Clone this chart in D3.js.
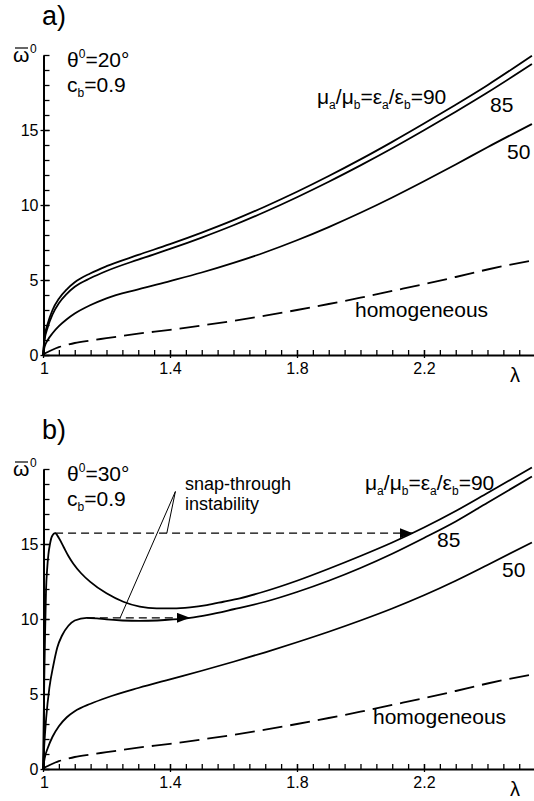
<!DOCTYPE html>
<html>
<head>
<meta charset="utf-8">
<script src="https://cdn.jsdelivr.net/npm/d3@7"></script>
<style>
body { margin: 0; background: #fff; }
svg { display: block; font-family: "Liberation Sans", Arial, Helvetica, sans-serif; }
</style>
</head>
<body>
<svg id="chart" width="534" height="801"></svg>
<script>
// lambda grid shared by most curves
const lamGrid = [1, 1.005, 1.015, 1.03, 1.05, 1.075, 1.1, 1.15, 1.2, 1.3, 1.4, 1.5, 1.6, 1.7, 1.8, 1.9, 2.0, 2.1, 2.2, 2.3, 2.4, 2.54];

// panel a) theta0 = 20 deg
const a90 = [0, 1.2, 2.1, 3.0, 3.75, 4.38, 4.85, 5.45, 5.92, 6.67, 7.39, 8.16, 8.99, 9.9, 10.88, 11.93, 13.04, 14.21, 15.43, 16.69, 17.99, 19.95];
const a85 = [0, 1.0, 1.85, 2.7, 3.45, 4.08, 4.55, 5.13, 5.6, 6.36, 7.07, 7.83, 8.65, 9.55, 10.52, 11.55, 12.64, 13.78, 14.98, 16.22, 17.5, 19.4];
const a50 = [0, 0.55, 1.0, 1.45, 1.92, 2.38, 2.76, 3.33, 3.78, 4.38, 4.93, 5.5, 6.14, 6.85, 7.65, 8.53, 9.48, 10.5, 11.58, 12.7, 13.85, 15.4];
// homogeneous (same in both panels)
const homog = [0, 0.08, 0.2, 0.35, 0.52, 0.67, 0.8, 0.97, 1.12, 1.42, 1.68, 1.97, 2.28, 2.62, 3.0, 3.4, 3.82, 4.27, 4.72, 5.2, 5.7, 6.3];

// panel b) theta0 = 30 deg
const lamB90 = [1, 1.002, 1.004, 1.0065, 1.0095, 1.013, 1.017, 1.022, 1.028, 1.038, 1.05, 1.065, 1.08, 1.095, 1.12, 1.148, 1.2, 1.253, 1.305, 1.358, 1.41, 1.463, 1.516, 1.568, 1.62, 1.7, 1.8, 1.9, 2.0, 2.1, 2.2, 2.3, 2.4, 2.54];
const b90 = [0, 3.0, 6.0, 9.0, 11.9, 13.3, 14.3, 15.0, 15.5, 15.72, 15.4, 14.8, 14.2, 13.7, 13.05, 12.49, 11.71, 11.15, 10.82, 10.71, 10.71, 10.78, 10.93, 11.15, 11.38, 11.85, 12.55, 13.35, 14.2, 15.1, 16.1, 17.2, 18.4, 20.1];
const lamB85 = [1, 1.004, 1.01, 1.02, 1.0325, 1.045, 1.06, 1.08, 1.1, 1.138, 1.17, 1.2, 1.25, 1.305, 1.36, 1.41, 1.463, 1.52, 1.6, 1.7, 1.8, 1.9, 2.0, 2.1, 2.2, 2.3, 2.4, 2.54];
const b85 = [0, 1.6, 3.4, 5.4, 6.9, 8.1, 8.9, 9.55, 9.9, 10.08, 10.04, 9.97, 9.9, 9.87, 9.9, 9.97, 10.08, 10.28, 10.65, 11.15, 11.8, 12.55, 13.4, 14.35, 15.4, 16.5, 17.75, 19.5];
const b50 = [0, 0.7, 1.4, 2.15, 2.85, 3.45, 3.85, 4.35, 4.75, 5.4, 5.98, 6.55, 7.15, 7.78, 8.45, 9.15, 9.9, 10.7, 11.58, 12.55, 13.6, 15.1];

// snap-through jumps: [lambda start, lambda end, omega]
const jumpsB = [[1.038, 2.165, 15.72], [1.138, 1.463, 10.08]];
// leader lines of the "snap-through instability" note: apex, then targets
const leaderB = [[1.417, 18.5], [1.39, 15.72], [1.243, 10.08]];

const lamTicks = [1, 1.4, 1.8, 2.2];
const omTicks = [0, 5, 10, 15];

const zip = (xs, ys) => xs.map((v, i) => [v, ys[i]]);

const svg = d3.select("#chart");
const x = d3.scaleLinear().domain([1, 2.55]).range([43, 535.1]);

const defs = svg.append("defs");
defs.append("marker")
    .attr("id", "arr")
    .attr("viewBox", "0 0 13 10")
    .attr("refX", 13).attr("refY", 5)
    .attr("markerWidth", 13).attr("markerHeight", 10)
    .attr("markerUnits", "userSpaceOnUse")
    .attr("orient", "auto")
    .append("path").attr("d", "M0,0L13,5L0,10Z").attr("fill", "#000");

// text with sub / superscripts
function rich(g, px, py, size, parts) {
    const t = g.append("text").attr("x", px).attr("y", py).attr("font-size", size);
    let shift = 0;
    parts.forEach(p => {
        const s = p[1] === "sub" ? 5 : p[1] === "sup" ? -9 : 0;
        t.append("tspan")
            .attr("dy", s - shift)
            .attr("font-size", p[1] ? Math.round(size * 0.55) : size)
            .text(p[0]);
        shift = s;
    });
    return t;
}

function drawPanel(cfg) {
    const y = d3.scaleLinear().domain([0, 20]).range([cfg.y0, cfg.y0 - 300]);
    const g = svg.append("g");
    const top = cfg.y0 - 300;

    // x axis: minor then major
    g.append("g").attr("transform", `translate(0,${cfg.y0})`)
        .call(d3.axisBottom(x).tickValues(d3.range(1, 2.551, 0.05)).tickSizeInner(-5).tickSizeOuter(0).tickFormat(""))
        .call(a => a.select(".domain").attr("stroke-width", 2));
    g.append("g").attr("transform", `translate(0,${cfg.y0})`)
        .call(d3.axisBottom(x).tickValues(lamTicks).tickSizeInner(-5).tickSizeOuter(0).tickPadding(8)
            .tickFormat(d => d === 1 ? "1" : d3.format(".1f")(d)))
        .call(a => a.select(".domain").remove())
        .call(a => a.selectAll(".tick line").attr("y1", 3))
        .call(a => a.selectAll("text").attr("font-size", 16).attr("font-family", null).attr("dx", d => d === 1 ? 1 : 0));

    // y axis
    g.append("g").attr("transform", "translate(43.5,0)")
        .call(d3.axisLeft(y).tickValues(d3.range(0, 20.5, 1)).tickSizeInner(-6).tickSizeOuter(0).tickFormat(""))
        .call(a => a.select(".domain").attr("stroke-width", 2));
    g.append("g").attr("transform", "translate(43.5,0)")
        .call(d3.axisLeft(y).tickValues(omTicks).tickSizeInner(-6).tickSizeOuter(0).tickPadding(5))
        .call(a => a.select(".domain").remove())
        .call(a => a.selectAll(".tick line").attr("x1", -3))
        .call(a => a.selectAll("text").attr("font-size", 16).attr("font-family", null));
    g.selectAll(".tick line").attr("stroke-width", 1.3);

    // y label: omega bar with superscript 0
    g.append("text").attr("x", 13).attr("y", top + 7).attr("font-size", 21).text("ω");
    g.append("line").attr("x1", 15).attr("x2", 28).attr("y1", top - 7).attr("y2", top - 7)
        .attr("stroke", "#000").attr("stroke-width", 1.2);
    g.append("text").attr("x", 30).attr("y", top - 2).attr("font-size", 12).text("0");

    // x label
    g.append("text").attr("x", 510).attr("y", cfg.y0 + 27).attr("font-size", 20).text("λ");

    // panel title and parameters
    g.append("text").attr("x", 42).attr("y", top - 30).attr("font-size", 27).text(cfg.title);
    rich(g, 67, top + 12, 21, [["θ"], ["0", "sup"], ["=" + cfg.theta + "°"]]);
    rich(g, 67, top + 37, 21, [["c"], ["b", "sub"], ["=0.9"]]);

    // curves
    const line = d3.line().x(d => x(d[0])).y(d => y(d[1])).curve(d3.curveMonotoneX);
    cfg.curves.forEach(c => {
        g.append("path").attr("d", line(c.pts))
            .attr("fill", "none").attr("stroke", "#000")
            .attr("stroke-width", 1.8)
            .attr("stroke-dasharray", c.dash || null);
    });

    // labels
    rich(g, cfg.mu[0], cfg.mu[1], 21, [["μ"], ["a", "sub"], ["/μ"], ["b", "sub"], ["=ε"], ["a", "sub"], ["/ε"], ["b", "sub"], ["=90"]]);
    g.append("text").attr("x", cfg.l85[0]).attr("y", cfg.l85[1]).attr("font-size", 21).text("85");
    g.append("text").attr("x", cfg.l50[0]).attr("y", cfg.l50[1]).attr("font-size", 21).text("50");
    g.append("text").attr("x", cfg.hom[0]).attr("y", cfg.hom[1]).attr("font-size", 21).text("homogeneous");

    // snap-through jumps
    if (cfg.jumps) {
        cfg.jumps.forEach(j => {
            g.append("line")
                .attr("x1", x(j[0])).attr("y1", y(j[2]))
                .attr("x2", x(j[1])).attr("y2", y(j[2]))
                .attr("stroke", "#000").attr("stroke-width", 1.3)
                .attr("stroke-dasharray", "8,5")
                .attr("marker-end", "url(#arr)");
        });
        const apex = cfg.leader[0];
        cfg.leader.slice(1).forEach(p => {
            g.append("line")
                .attr("x1", x(apex[0])).attr("y1", y(apex[1]))
                .attr("x2", x(p[0])).attr("y2", y(p[1]))
                .attr("stroke", "#000").attr("stroke-width", 1);
        });
        g.append("text").attr("x", 185).attr("y", top + 21).attr("font-size", 18).text("snap-through");
        g.append("text").attr("x", 185).attr("y", top + 41).attr("font-size", 18).text("instability");
    }
}

drawPanel({
    y0: 355, title: "a)", theta: "20",
    mu: [317, 104], l85: [490, 112], l50: [507, 159], hom: [355, 317],
    curves: [
        { pts: zip(lamGrid, a90) },
        { pts: zip(lamGrid, a85) },
        { pts: zip(lamGrid, a50) },
        { pts: zip(lamGrid, homog), dash: "20,8" }
    ]
});

drawPanel({
    y0: 769, title: "b)", theta: "30",
    mu: [365, 490], l85: [437, 547], l50: [502, 577], hom: [373, 724],
    curves: [
        { pts: zip(lamB90, b90) },
        { pts: zip(lamB85, b85) },
        { pts: zip(lamGrid, b50) },
        { pts: zip(lamGrid, homog), dash: "20,8" }
    ],
    jumps: jumpsB,
    leader: leaderB
});
</script>
</body>
</html>
